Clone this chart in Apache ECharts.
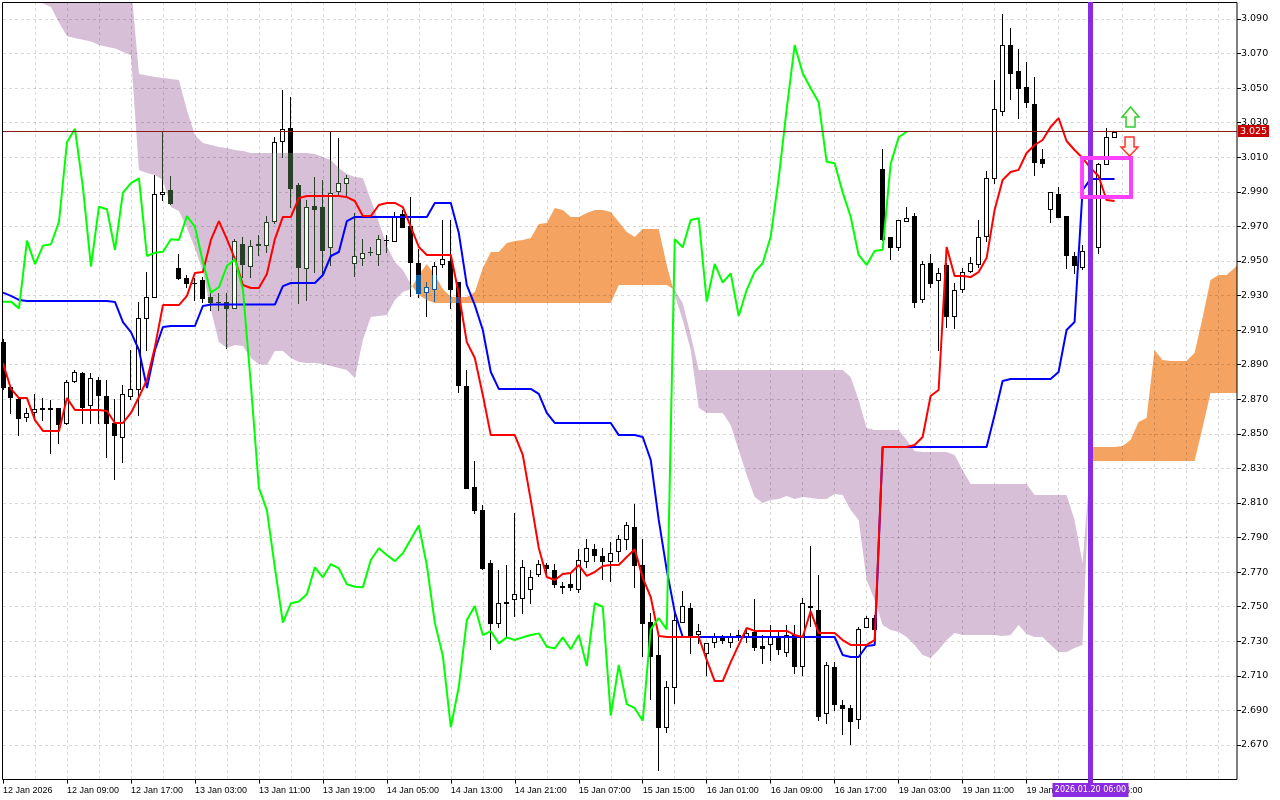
<!DOCTYPE html>
<html><head><meta charset="utf-8">
<script src="https://cdn.jsdelivr.net/npm/echarts@6/dist/echarts.min.js"></script>
<style>html,body{margin:0;padding:0;background:#fff}#c{width:1280px;height:800px}</style>
</head><body><div id="c"></div>
<script>
// ---------- DATA (H1 bars) ----------
const opens = [2.9033,2.8773,2.870,2.860,2.8628,2.8645,2.8648,2.8648,2.856,2.8808,
2.885,2.8667,2.8812,2.8719,2.856,2.848,2.8719,2.8758,2.9168,2.929,
2.9888,2.9911,2.9458,2.940,2.9375,2.939,2.9293,2.9265,2.9265,2.9226,
2.9598,2.9471,2.9595,2.9593,2.9733,3.0196,3.0268,2.9938,2.9458,2.9818,
2.9811,2.958,2.9907,2.995,2.9487,2.9516,2.9552,2.954,2.962,2.9618,
2.977,2.9702,2.949,2.9319,2.9336,2.9481,2.950,2.938,2.8779,2.8194,
2.8059,2.7751,2.7408,2.752,2.7543,2.7552,2.7603,2.7689,2.7742,2.7712,
2.7618,2.7631,2.760,2.7764,2.7832,2.7795,2.7767,2.7824,2.789,2.7959,
2.774,2.741,2.7221,2.6803,2.7034,2.741,2.7491,2.7342,2.7235,2.7298,
2.7321,2.7298,2.7334,2.7323,2.7356,2.7273,2.7284,2.7323,2.724,2.7336,
2.7157,2.7504,2.7481,2.6884,2.7153,2.6932,2.6916,2.6849,2.7381,2.7437,
3.0032,2.9637,2.9579,2.9733,2.976,2.9279,2.9487,2.939,2.9477,2.9182,
2.9336,2.9444,2.9483,2.9645,2.9978,3.0368,3.075,3.0599,3.0505,3.0407,
3.0088,2.9799,2.9888,2.976,2.9529,2.9467,2.9558,2.9579,3.0061,3.0216];
const closes = [2.8773,2.8712,2.859,2.862,2.8644,2.8648,2.8642,2.8557,2.880,2.8856,
2.8657,2.8822,2.8725,2.8565,2.8493,2.8729,2.8758,2.9168,2.9293,2.9888,
2.990,2.9837,2.9404,2.9375,2.9375,2.9288,2.9265,2.9265,2.9226,2.9618,
2.9481,2.9589,2.9597,2.9727,3.0187,3.0265,2.9924,2.9467,2.9814,2.9799,
2.9564,2.9895,2.995,2.9978,2.9529,2.9548,2.9554,2.9626,2.9622,2.976,
2.9698,2.9496,2.9317,2.9348,2.9471,2.951,2.9336,2.8783,2.8188,2.8059,
2.7726,2.7408,2.752,2.753,2.7572,2.7728,2.767,2.7747,2.7722,2.763,
2.7616,2.7612,2.777,2.7838,2.7799,2.7764,2.7809,2.789,2.797,2.774,
2.7408,2.7217,2.6803,2.7037,2.7423,2.7504,2.7336,2.7359,2.7288,2.7323,
2.7308,2.7323,2.7336,2.7346,2.7269,2.7259,2.7323,2.7254,2.7336,2.7157,
2.752,2.750,2.687,2.7163,2.6937,2.6913,2.6841,2.7369,2.7434,2.7369,
2.9626,2.9579,2.9737,2.9747,2.9265,2.9483,2.9375,2.9429,2.9182,2.9332,
2.9438,2.9487,2.964,2.9978,3.0378,3.075,3.0586,3.0499,3.0418,3.0074,
3.0065,2.9897,2.9756,2.9535,2.9477,2.9558,2.9565,3.0061,3.0216,3.0248];
const lows = [2.876,2.8619,2.8493,2.8576,2.858,2.858,2.8388,2.8449,2.8555,2.880,
2.856,2.8565,2.8561,2.8368,2.8237,2.8339,2.870,2.8609,2.8985,2.929,
2.9853,2.983,2.9394,2.9348,2.9274,2.9265,2.9217,2.9217,2.8996,2.9226,
2.9409,2.9406,2.9535,2.9554,2.9718,3.010,2.9814,2.9259,2.9274,2.9438,
2.9429,2.9477,2.9876,2.9872,2.9413,2.9477,2.9535,2.9477,2.9554,2.9618,
2.9698,2.9298,2.9294,2.9182,2.927,2.9467,2.9226,2.8744,2.8188,2.804,
2.7718,2.7254,2.7385,2.733,2.7446,2.7465,2.752,2.7675,2.7675,2.7612,
2.7578,2.7596,2.7587,2.7728,2.7764,2.7659,2.7649,2.7764,2.7832,2.7616,
2.7215,2.6965,2.6556,2.6774,2.6941,2.741,2.7231,2.7288,2.7105,2.7265,
2.7288,2.7265,2.7307,2.7294,2.725,2.7173,2.7192,2.7225,2.7215,2.7115,
2.7105,2.739,2.6845,2.6826,2.690,2.6762,2.6704,2.6797,2.7381,2.7369,
2.962,2.951,2.9565,2.9733,2.9236,2.9265,2.9348,2.8984,2.9118,2.911,
2.9322,2.9435,2.9467,2.9618,2.995,3.0345,3.0435,3.0326,3.0389,3.000,
3.0046,2.9727,2.9756,2.9458,2.9429,2.9455,2.951,2.9548,3.0061,3.0216];
const highs = [2.905,2.878,2.8705,2.8648,2.873,2.8706,2.8696,2.865,2.881,2.887,
2.886,2.885,2.8827,2.8812,2.870,2.8783,2.8985,2.9265,2.9438,2.9998,
3.0248,2.9992,2.9539,2.9419,2.940,2.9409,2.9317,2.9317,2.9317,2.9626,
2.964,2.9622,2.9649,2.976,3.0216,3.0489,3.0447,2.995,2.9853,2.9988,
2.9969,3.0248,3.021,2.9998,2.9779,2.9626,2.9583,2.965,2.965,2.9785,
2.9795,2.9869,2.9571,2.9377,2.9496,2.9737,2.9737,2.938,2.887,2.8345,
2.8088,2.777,2.7713,2.7739,2.8044,2.777,2.7712,2.777,2.7755,2.7745,
2.7645,2.7703,2.7832,2.789,2.7861,2.7838,2.7876,2.7915,2.7988,2.8094,
2.789,2.7462,2.7356,2.707,2.7494,2.7591,2.752,2.7398,2.7288,2.7346,
2.7336,2.7346,2.7365,2.7375,2.7543,2.7336,2.7394,2.7355,2.7394,2.7394,
2.7548,2.7851,2.7684,2.7182,2.7178,2.696,2.6932,2.7385,2.7445,2.7455,
3.0148,2.9637,2.9737,2.9811,2.9776,2.9502,2.954,2.9458,2.9487,2.9371,
2.9458,2.9522,2.9737,3.0021,3.0547,3.0929,3.0846,3.0725,3.0653,3.0566,
3.0146,2.9897,2.9926,2.976,2.9554,2.9593,2.960,3.0069,3.0268,3.0253];

// Tenkan-sen (red)
const tenkan = [2.8910,2.8760,2.8707,2.8707,2.8580,2.8517,2.8517,2.8517,2.8707,2.8638,
2.8638,2.8638,2.8638,2.8632,2.8563,2.8563,2.8621,2.8713,2.8812,2.9003,
2.9245,2.9245,2.9245,2.9298,2.9431,2.9436,2.9622,2.9731,2.9627,2.9512,
2.9361,2.9344,2.9344,2.9425,2.9627,2.9755,2.9755,2.9864,2.9876,2.9876,
2.9876,2.9876,2.9876,2.9870,2.9847,2.9760,2.9760,2.9824,2.9836,2.9836,
2.9812,2.9697,2.9581,2.9535,2.9535,2.9535,2.9535,2.9309,2.9031,2.8939,
2.8725,2.8493,2.8493,2.8493,2.8493,2.8378,2.8117,2.7840,2.7672,2.7655,
2.7689,2.7695,2.7741,2.7678,2.7701,2.7736,2.7741,2.7741,2.7788,2.7833,
2.7667,2.7556,2.7331,2.7325,2.7325,2.7325,2.7325,2.7325,2.7192,2.7070,
2.7070,2.7180,2.7279,2.7377,2.7360,2.7360,2.7360,2.7360,2.7360,2.7337,
2.7325,2.7475,2.7348,2.7348,2.7348,2.7307,2.7279,2.7279,2.7279,2.7307,
2.8424,2.8424,2.8424,2.8424,2.8436,2.8482,2.8719,2.8754,2.9581,2.9413,
2.9413,2.9407,2.9436,2.9517,2.9795,2.9969,3.0015,3.0027,3.0125,3.0171,
3.0200,3.0275,3.0327,3.0194,3.0142,3.0096,3.0038,2.9992,2.9853,2.9847];
// Kijun-sen (blue)
const kijun = [2.9317,2.9298,2.9275,2.9269,2.9269,2.9269,2.9269,2.9269,2.9269,2.9269,
2.9269,2.9269,2.9269,2.9269,2.9263,2.9147,2.9089,2.8985,2.8765,2.8985,
2.9118,2.9124,2.9124,2.9124,2.9124,2.9240,2.9248,2.9248,2.9248,2.9248,
2.9248,2.9248,2.9248,2.9248,2.9248,2.9355,2.9373,2.9373,2.9373,2.9373,
2.9419,2.9529,2.9552,2.9731,2.9755,2.9755,2.9755,2.9755,2.9755,2.9755,
2.9755,2.9755,2.9755,2.9755,2.9836,2.9836,2.9836,2.9662,2.9361,2.9245,
2.9101,2.8858,2.8760,2.8760,2.8760,2.8760,2.8760,2.8731,2.8621,2.8563,
2.8563,2.8563,2.8563,2.8563,2.8563,2.8563,2.8563,2.8493,2.8493,2.8493,
2.8482,2.8349,2.8002,2.7713,2.7470,2.7325,2.7325,2.7325,2.7325,2.7325,
2.7325,2.7325,2.7325,2.7325,2.7325,2.7325,2.7325,2.7325,2.7325,2.7325,
2.7325,2.7325,2.7325,2.7325,2.7325,2.7221,2.7209,2.7209,2.7273,2.7279,
2.8424,2.8424,2.8424,2.8424,2.8424,2.8424,2.8424,2.8424,2.8424,2.8424,
2.8424,2.8424,2.8424,2.8424,2.8609,2.8806,2.8817,2.8817,2.8817,2.8817,
2.8817,2.8817,2.8858,2.9101,2.9147,2.9910,2.9974,2.9974,2.9974,2.9974];
// Chikou span (green), as drawn (26 bars back)
const chikou = [2.9265,2.9265,2.9226,2.9618,2.9481,2.9589,2.9597,2.9727,3.0187,3.0265,
2.9924,2.9467,2.9814,2.9799,2.9564,2.9895,2.995,2.9978,2.9529,2.9548,
2.9554,2.9626,2.9622,2.976,2.9698,2.9496,2.9317,2.9348,2.9471,2.951,
2.9336,2.8783,2.8188,2.8059,2.7726,2.7408,2.752,2.753,2.7572,2.7728,
2.767,2.7747,2.7722,2.763,2.7616,2.7612,2.777,2.7838,2.7799,2.7764,
2.7809,2.789,2.797,2.774,2.7408,2.7217,2.6803,2.7037,2.7423,2.7504,
2.7336,2.7359,2.7288,2.7323,2.7308,2.7323,2.7336,2.7346,2.7269,2.7259,
2.7323,2.7254,2.7336,2.7157,2.752,2.750,2.687,2.7163,2.6937,2.6913,
2.6841,2.7369,2.7434,2.7369,2.9626,2.9579,2.9737,2.9747,2.9265,2.9483,
2.9375,2.9429,2.9182,2.9332,2.9438,2.9487,2.964,2.9978,3.0378,3.075,
3.0586,3.0499,3.0418,3.0074,3.0065,2.9897,2.9756,2.9535,2.9477,2.9558,
2.9565,3.0061,3.0216,3.0248];
// Senkou span A / B (cloud, 26 bars ahead)
const spanA = [3.105,3.105,3.104,3.103,3.102,3.099,3.097,3.088,3.080,3.079,
3.078,3.077,3.075,3.074,3.073,3.071,3.069,3.0026,3.0009,2.9998,
2.9969,2.9812,2.9789,2.9691,2.9575,2.9436,2.9217,2.9031,2.8997,2.9014,
2.9008,2.8939,2.8904,2.8898,2.8979,2.8979,2.8939,2.8916,2.8910,2.8910,
2.8904,2.8893,2.8881,2.8869,2.8823,2.9043,2.9176,2.9182,2.9188,2.9274,
2.9321,2.9338,2.9419,2.9483,2.9419,2.9338,2.9292,2.9292,2.9292,2.9321,
2.9460,2.9552,2.9552,2.9604,2.9616,2.9622,2.9633,2.9714,2.9720,2.9807,
2.9795,2.9755,2.9755,2.9778,2.9795,2.9795,2.9784,2.9726,2.9668,2.9639,
2.9685,2.9685,2.9685,2.9477,2.9303,2.9159,2.8985,2.8650,2.8621,2.8621,
2.8621,2.8551,2.8407,2.8262,2.8135,2.8100,2.8117,2.8123,2.8141,2.8123,
2.8135,2.8129,2.8123,2.8123,2.8152,2.8146,2.8060,2.8002,2.7655,2.7539,
2.7394,2.7365,2.7354,2.7325,2.7279,2.7221,2.7203,2.7250,2.7307,2.7348,
2.7336,2.7336,2.7336,2.7336,2.7336,2.7331,2.7336,2.7394,2.7342,2.7325,
2.7325,2.7279,2.7238,2.7238,2.7261,2.7279,2.8424,2.8424,2.8424,2.8424,
2.8430,2.8465,2.8569,2.8592,2.8985,2.8927,2.8922,2.8922,2.8922,2.8968,
2.9170,2.9390,2.9419,2.9419,2.9460,2.9506];
const spanB = [3.11,3.11,3.11,3.11,3.11,3.11,3.11,3.11,3.11,3.11,
3.11,3.11,3.11,3.11,3.11,3.11,3.11,3.0582,3.0573,3.0564,
3.0559,3.0553,3.0547,3.0374,3.0229,3.0183,3.0171,3.0160,3.0154,3.0142,
3.0136,3.0125,3.0125,3.0125,3.0125,3.0125,3.0125,3.0125,3.0125,3.0119,
3.0102,3.0084,3.0038,3.0003,2.9986,2.9980,2.9853,2.9726,2.9587,2.9494,
2.9448,2.9367,2.9303,2.9274,2.9257,2.9257,2.9257,2.9257,2.9257,2.9257,
2.9257,2.9257,2.9257,2.9257,2.9257,2.9257,2.9257,2.9257,2.9257,2.9257,
2.9257,2.9257,2.9257,2.9257,2.9257,2.9257,2.9257,2.9361,2.9361,2.9361,
2.9361,2.9361,2.9361,2.9361,2.9332,2.9257,2.9072,2.8869,2.8869,2.8869,
2.8869,2.8869,2.8869,2.8869,2.8869,2.8869,2.8869,2.8869,2.8869,2.8869,
2.8869,2.8869,2.8869,2.8869,2.8869,2.8869,2.8829,2.8696,2.8534,2.8522,
2.8522,2.8522,2.8522,2.8465,2.8401,2.8395,2.8395,2.8395,2.8395,2.8378,
2.8291,2.8210,2.8210,2.8210,2.8210,2.8210,2.8210,2.8210,2.8210,2.8146,
2.8146,2.8146,2.8146,2.8146,2.8002,2.7753,2.8343,2.8343,2.8343,2.8343,
2.8343,2.8343,2.8343,2.8343,2.8343,2.8343,2.8343,2.8343,2.8343,2.8343,
2.8534,2.8737,2.8737,2.8737,2.8737,2.8737];

// Axis ticks
const tickBars = [0,8,16,24,32,40,48,56,64,72,80,88,96,104,112,120,128,136];
const tickLabels = ['12 Jan 2026','12 Jan 09:00','12 Jan 17:00','13 Jan 03:00','13 Jan 11:00','13 Jan 19:00',
'14 Jan 05:00','14 Jan 13:00','14 Jan 21:00','15 Jan 07:00','15 Jan 15:00','16 Jan 01:00','16 Jan 09:00',
'16 Jan 17:00','19 Jan 03:00','19 Jan 11:00','19 Jan 19:00','20 Jan 06:00'];
const priceMin = 2.65, priceMax = 3.09983, priceStep = 0.02;
const bidPrice = 3.025;
const vlineBar = 136, vlineLabel = '2026.01.20 06:00';
const boxBars = [134.94, 141.06], boxPrices = [3.0096, 2.9870];
const upArrow = [141.0, 3.0391], downArrow = [140.875, 3.0108];
const nCats = 155;

// ---------- CHART ----------
const chart = echarts.init(document.getElementById('c'), null, {renderer: 'canvas'});
const cats = Array.from({length: nCats}, (_, i) => String(i));
const labelMap = {};
tickBars.forEach((b, k) => labelMap[b] = tickLabels[k]);
const candleData = opens.map((o, i) => [i, o, closes[i], lows[i], highs[i]]);

function clipPoly(pts, x0, y0, x1, y1) {
  const edge = (pts, inside, inter) => {
    const out = [];
    for (let i = 0; i < pts.length; i++) {
      const cur = pts[i], prev = pts[(i + pts.length - 1) % pts.length];
      const ci = inside(cur), pi = inside(prev);
      if (ci) { if (!pi) out.push(inter(prev, cur)); out.push(cur); }
      else if (pi) out.push(inter(prev, cur));
    }
    return out;
  };
  const ix = x => (a, b) => [x, a[1] + (b[1] - a[1]) * (x - a[0]) / (b[0] - a[0])];
  const iy = y => (a, b) => [a[0] + (b[0] - a[0]) * (y - a[1]) / (b[1] - a[1]), y];
  pts = edge(pts, p => p[0] >= x0, ix(x0)); if (!pts.length) return pts;
  pts = edge(pts, p => p[0] <= x1, ix(x1)); if (!pts.length) return pts;
  pts = edge(pts, p => p[1] >= y0, iy(y0)); if (!pts.length) return pts;
  pts = edge(pts, p => p[1] <= y1, iy(y1));
  return pts;
}

function renderCloud(params, api) {
  const cs = params.coordSys;
  const xa = api.coord([0, 3])[0], xb = api.coord([1, 3])[0], step = xb - xa;
  const X = i => xa + i * step;
  const Y = v => api.coord([0, v])[1];
  const runs = [];
  let cur = null;
  for (let i = 0; i < spanA.length; i++) {
    const d = spanA[i] - spanB[i];
    const xi = X(i), ya = Y(spanA[i]), yb = Y(spanB[i]);
    if (!cur) { cur = {s: d >= 0, top: [[xi, ya]], bot: [[xi, yb]]}; continue; }
    const dp = spanA[i - 1] - spanB[i - 1];
    if ((dp >= 0) !== (d >= 0)) {
      const t = dp / (dp - d);
      const xp = X(i - 1), yap = Y(spanA[i - 1]);
      const xm = xp + t * (xi - xp), ym = yap + t * (ya - yap);
      cur.top.push([xm, ym]); cur.bot.push([xm, ym]); runs.push(cur);
      cur = {s: d >= 0, top: [[xm, ym]], bot: [[xm, ym]]};
    }
    cur.top.push([xi, ya]); cur.bot.push([xi, yb]);
  }
  runs.push(cur);
  const children = [];
  runs.forEach(r => {
    const poly = clipPoly(r.top.concat(r.bot.slice().reverse()), 2.5, cs.y, cs.x + cs.width + 2.5, cs.y + cs.height);
    if (poly.length > 2) children.push({type: 'polygon', shape: {points: poly},
      style: {fill: r.s ? '#F4A460' : '#D8BFD8'}});
  });
  return {type: 'group', children};
}

// MT5 draws candle strokes inverted over the cloud; reproduce that colouring per segment
function renderCandle(params, api) {
  const i = api.value(0), o = api.value(1), c = api.value(2), l = api.value(3), h = api.value(4);
  const pt = v => Math.round(api.coord([i, v])[1]);
  const x = api.coord([i, o])[0];
  const yO = pt(o), yC = pt(c), yL = pt(l), yH = pt(h);
  const ca = pt(spanA[i]), cb = pt(spanB[i]);
  const cTop = Math.min(ca, cb), cBot = Math.max(ca, cb);
  const inCol = spanA[i] >= spanB[i] ? '#0b5b9f' : '#274027';
  const xl = Math.round(x - 2.5), xw = Math.round(x - 0.5);
  const ch = [];
  function seg(x0, w, y1, y2) {
    if (y2 <= y1) return;
    const cuts = [[y1, Math.min(y2, cTop)], [Math.max(y1, cTop), Math.min(y2, cBot)], [Math.max(y1, cBot), y2]];
    cuts.forEach((r, k) => {
      if (r[1] > r[0]) ch.push({type: 'rect', shape: {x: x0, y: r[0], width: w, height: r[1] - r[0]},
        style: {fill: k === 1 ? inCol : '#000000'}});
    });
  }
  const top = Math.min(yO, yC), bot = Math.max(yO, yC) + 1;
  seg(xw, 1, yH, top);
  seg(xw, 1, bot, yL + 1);
  const hgt = bot - top;
  if (c < o || hgt <= 2) {
    seg(xl, 5, top, bot);
  } else {
    ch.push({type: 'rect', shape: {x: xl, y: top, width: 5, height: hgt}, style: {fill: '#ffffff'}});
    seg(xl, 5, top, top + 1); seg(xl, 5, bot - 1, bot);
    seg(xl, 1, top + 1, bot - 1); seg(xl + 4, 1, top + 1, bot - 1);
  }
  return {type: 'group', children: ch};
}

const lineCommon = {type: 'line', showSymbol: false, symbol: 'none', silent: true, animation: false,
  connectNulls: false, emphasis: {disabled: true}, z: 3};
const gridCol = 'rgba(0,0,0,0.15)';

chart.setOption({
  animation: false,
  backgroundColor: '#ffffff',
  grid: {left: 2.5, right: 45.5, top: 2, bottom: 20.4, containLabel: false},
  xAxis: {
    type: 'category', data: cats, boundaryGap: false, z: 1,
    axisLine: {show: false},
    axisTick: {show: true, length: 4, interval: i => labelMap[i] !== undefined, lineStyle: {color: '#000'}},
    axisLabel: {show: true, interval: i => labelMap[i] !== undefined, formatter: (v, i) => labelMap[i] || '',
      align: 'left', margin: 6, color: '#000', fontSize: 9, fontFamily: 'Liberation Sans'},
    splitLine: {show: true, interval: i => i % 4 === 0 && i > 0, lineStyle: {color: gridCol, type: [3, 3], width: 1}}
  },
  yAxis: {
    type: 'value', position: 'right', min: priceMin, max: priceMax, interval: priceStep, offset: 2.5, z: 1,
    axisLine: {show: false},
    axisTick: {show: true, length: 4, lineStyle: {color: '#000'}},
    axisLabel: {color: '#000', fontSize: 9.5, fontFamily: 'DejaVu Sans', margin: 4,
      showMinLabel: false, showMaxLabel: false, formatter: v => v.toFixed(3)},
    splitLine: {show: true, lineStyle: {color: gridCol, type: [3, 3], width: 1}}
  },
  series: [
    {type: 'custom', name: 'cloud', silent: true, renderItem: renderCloud, data: [[0, 2.9]],
     encode: {x: 0, y: 1}, z: 0},
    {type: 'custom', name: 'candles', silent: true, renderItem: renderCandle, data: candleData,
     encode: {x: 0, y: [1, 2, 3, 4]}, z: 2},
    Object.assign({}, lineCommon, {name: 'Kijun', data: kijun, lineStyle: {color: '#0000ff', width: 2}}),
    Object.assign({}, lineCommon, {name: 'Tenkan', data: tenkan, lineStyle: {color: '#ff0000', width: 2}}),
    Object.assign({}, lineCommon, {name: 'Chikou', data: chikou, lineStyle: {color: '#00ff00', width: 2}})
  ]
});

function px(i, p) {
  const i0 = Math.floor(i), f = i - i0;
  const a = chart.convertToPixel({xAxisIndex: 0, yAxisIndex: 0}, [i0, p]);
  const b = chart.convertToPixel({xAxisIndex: 0, yAxisIndex: 0}, [i0 + 1, p]);
  return [a[0] + f * (b[0] - a[0]), a[1]];
}
const vx = Math.round(px(vlineBar, 3)[0] - 2.5);
const b0 = px(boxBars[0], boxPrices[0]), b1 = px(boxBars[1], boxPrices[1]);
const ua = px(upArrow[0], upArrow[1]), da = px(downArrow[0], downArrow[1]);
const by = Math.round(px(0, bidPrice)[1]) + 0.5;
const upPts = [[0, 0], [8.5, 10], [4.5, 10], [4.5, 20], [-4.5, 20], [-4.5, 10], [-8.5, 10]].map(p => [ua[0] + p[0], ua[1] + p[1]]);
const dnPts = [[0, 0], [-8.5, -9], [-4.5, -9], [-4.5, -19], [4.5, -19], [4.5, -9], [8.5, -9]].map(p => [da[0] + p[0], da[1] + p[1]]);

chart.setOption({graphic: [
  {type: 'line', z: 50, silent: true, shape: {x1: 2.5, y1: by, x2: 1237, y2: by}, style: {stroke: '#8b1a1a', lineWidth: 1}},
  {type: 'rect', z: 90, silent: true, shape: {x: 2.5, y: 2.5, width: 1234.5, height: 777},
   style: {fill: 'none', stroke: '#000', lineWidth: 1}},
  {type: 'rect', z: 91, silent: true, shape: {x: 1238, y: by - 6.5, width: 31, height: 12}, style: {fill: '#c80000'}},
  {type: 'text', z: 92, silent: true, x: 1253.5, y: by, style: {text: bidPrice.toFixed(3), fill: '#fff',
    font: '9.5px "DejaVu Sans"', align: 'center', verticalAlign: 'middle'}},
  {type: 'rect', z: 95, silent: true, shape: {x: vx, y: 2, width: 5, height: 781}, style: {fill: '#8a2be2'}},
  {type: 'rect', z: 96, silent: true, shape: {x: vx + 2.5 - 38, y: 783, width: 76, height: 14}, style: {fill: '#8a2be2'}},
  {type: 'text', z: 97, silent: true, x: vx + 2.5, y: 790, style: {text: vlineLabel, fill: '#fff', font: '8px "DejaVu Sans"',
    align: 'center', verticalAlign: 'middle'}},
  {type: 'rect', z: 95, silent: true, shape: {x: b0[0], y: b0[1], width: b1[0] - b0[0], height: b1[1] - b0[1]},
   style: {fill: 'none', stroke: '#ff40ff', lineWidth: 4}},
  {type: 'polygon', z: 95, silent: true, shape: {points: upPts}, style: {fill: '#fafff0', stroke: '#33cc33', lineWidth: 1.5}},
  {type: 'polygon', z: 95, silent: true, shape: {points: dnPts}, style: {fill: '#fff8f0', stroke: '#ff3333', lineWidth: 1.5}}
]});
</script>
</body></html>
